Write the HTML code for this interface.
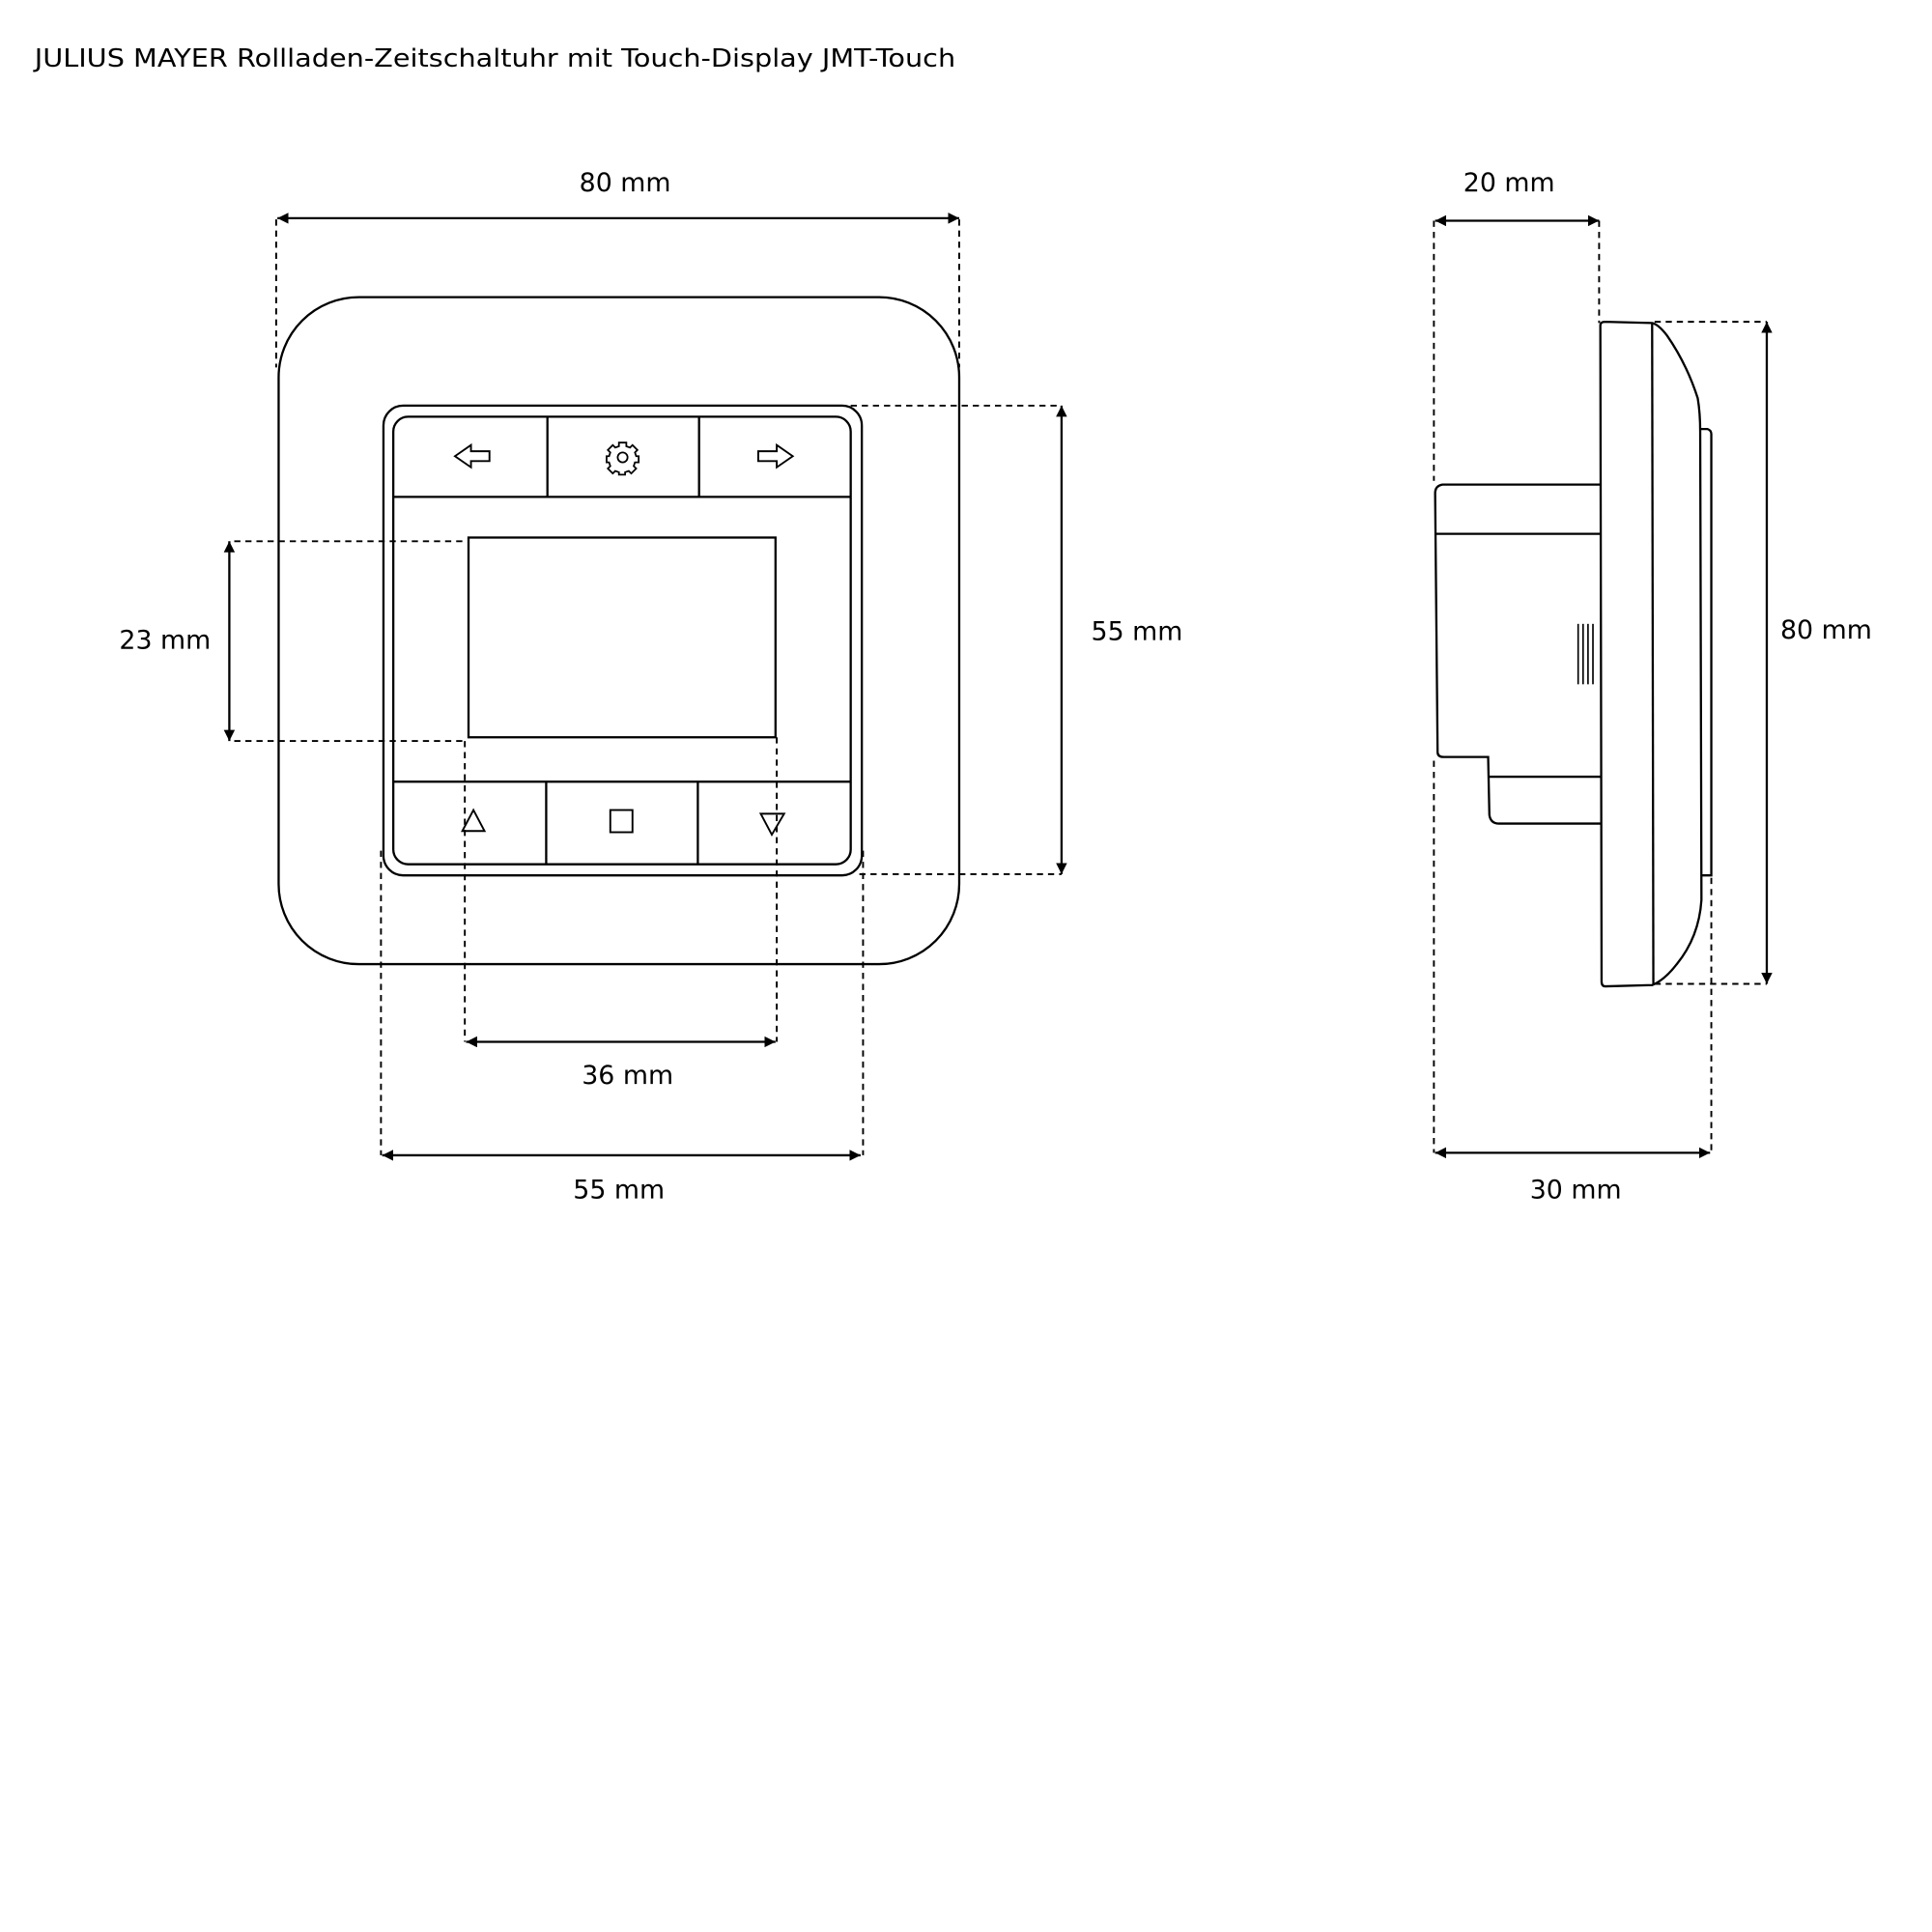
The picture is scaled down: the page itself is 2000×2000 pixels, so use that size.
<!DOCTYPE html>
<html><head><meta charset="utf-8"><style>
html,body{margin:0;padding:0;background:#fff;}
svg{display:block;}
text{font-family:"DejaVu Sans","Liberation Sans",sans-serif;fill:#000;}
</style></head><body>
<svg width="2000" height="2000" viewBox="0 0 1567 1567" xmlns="http://www.w3.org/2000/svg">
<defs>
<marker id="a" viewBox="0 0 10 10" refX="10" refY="5" markerWidth="9" markerHeight="9" markerUnits="userSpaceOnUse" orient="auto-start-reverse"><path d="M0,0 L10,5 L0,10 z" fill="#000"/></marker>
</defs>
<text x="28" y="54" font-size="20" textLength="747" lengthAdjust="spacingAndGlyphs">JULIUS MAYER Rollladen-Zeitschaltuhr mit Touch-Display JMT-Touch</text>

<g fill="none" stroke="#000" stroke-width="1.8">
<rect x="226" y="241" width="552" height="541" rx="65"/>
<rect x="311" y="329" width="388" height="381" rx="16"/>
<rect x="319" y="338" width="371" height="363" rx="12"/>
<line x1="319" y1="403" x2="690" y2="403"/>
<line x1="444" y1="338" x2="444" y2="403"/>
<line x1="567" y1="338" x2="567" y2="403"/>
<line x1="319" y1="634" x2="690" y2="634"/>
<line x1="443" y1="634" x2="443" y2="701"/>
<line x1="566" y1="634" x2="566" y2="701"/>
<rect x="380" y="436" width="249" height="162"/>
<path d="M369,370 L382,361 L382,366 L397,366 L397,374 L382,374 L382,379 Z" stroke-width="1.5"/>
<path d="M643,370 L630,361 L630,366 L615,366 L615,374 L630,374 L630,379 Z" stroke-width="1.5"/>
<g transform="translate(505,371)" stroke-width="1.4">
<circle r="4"/>
<path d="M-3,-12 L3,-12 L3,-9 L6,-8 L8,-10 L12,-6 L10,-4 L11,-1 L13,-1 L13,4 L10,4 L9,7 L11,9 L7,13 L5,11 L2,12 L2,14 L-3,14 L-3,12 L-6,11 L-8,13 L-12,9 L-10,7 L-11,4 L-13,4 L-13,-1 L-11,-1 L-10,-4 L-12,-6 L-8,-10 L-6,-8 L-3,-9 Z"/>
</g>
<path d="M375,674 L384,657 L393,674 Z" stroke-width="1.5"/>
<rect x="495" y="657" width="18" height="18" stroke-width="1.5"/>
<path d="M617,660 L636,660 L626,677 Z" stroke-width="1.5"/>

<path d="M1298,264 Q1298,261 1302,261 L1340,262 Q1345,263 1352,272 Q1368,295 1377,323 Q1379,335 1379,350 L1380,730 Q1378,760 1360,782 Q1350,795 1340,799 L1302,800 Q1299,800 1299,796 Z"/>
<line x1="1340" y1="262" x2="1341" y2="799"/>
<path d="M1379,348 L1385,348 Q1388,349 1388,352 L1388,710 L1380,710"/>
<path d="M1298,393 L1170,393 Q1164,394 1164,400 L1166,610 Q1166,614 1171,614 L1207,614 L1208,661 Q1209,668 1216,668 L1298,668"/>
<line x1="1164" y1="433" x2="1298" y2="433"/>
<line x1="1208" y1="630" x2="1298" y2="630"/>
<g stroke-width="1.3"><line x1="1280" y1="506" x2="1280" y2="555"/><line x1="1284" y1="506" x2="1284" y2="555"/><line x1="1288" y1="506" x2="1288" y2="555"/><line x1="1292" y1="506" x2="1292" y2="555"/></g>
</g>

<g fill="none" stroke="#000" stroke-width="1.5" stroke-dasharray="5,4">
<line x1="224" y1="178" x2="224" y2="298"/>
<line x1="778" y1="178" x2="778" y2="298"/>
<line x1="690" y1="329" x2="861" y2="329"/>
<line x1="697" y1="709" x2="861" y2="709"/>
<line x1="190" y1="439" x2="376" y2="439"/>
<line x1="190" y1="601" x2="376" y2="601"/>
<line x1="377" y1="601" x2="377" y2="845"/>
<line x1="630" y1="598" x2="630" y2="845"/>
<line x1="309" y1="690" x2="309" y2="937"/>
<line x1="700" y1="690" x2="700" y2="937"/>
<line x1="1163" y1="179" x2="1163" y2="390"/>
<line x1="1297" y1="179" x2="1297" y2="262"/>
<line x1="1342" y1="261" x2="1433" y2="261"/>
<line x1="1342" y1="798" x2="1433" y2="798"/>
<line x1="1163" y1="617" x2="1163" y2="935"/>
<line x1="1388" y1="712" x2="1388" y2="935"/>
</g>

<g stroke="#000" stroke-width="1.8" marker-start="url(#a)" marker-end="url(#a)">
<line x1="225" y1="177" x2="778" y2="177"/>
<line x1="861" y1="329" x2="861" y2="709"/>
<line x1="186" y1="439" x2="186" y2="601"/>
<line x1="378" y1="845" x2="629" y2="845"/>
<line x1="310" y1="937" x2="698" y2="937"/>
<line x1="1164" y1="179" x2="1297" y2="179"/>
<line x1="1433" y1="261" x2="1433" y2="798"/>
<line x1="1164" y1="935" x2="1387" y2="935"/>
</g>

<g font-size="21">
<text x="507" y="155" text-anchor="middle">80 mm</text>
<text x="885" y="519">55 mm</text>
<text x="171" y="526" text-anchor="end">23 mm</text>
<text x="509" y="879" text-anchor="middle">36 mm</text>
<text x="502" y="972" text-anchor="middle">55 mm</text>
<text x="1224" y="155" text-anchor="middle">20 mm</text>
<text x="1444" y="518">80 mm</text>
<text x="1278" y="972" text-anchor="middle">30 mm</text>
</g>
</svg>
</body></html>
